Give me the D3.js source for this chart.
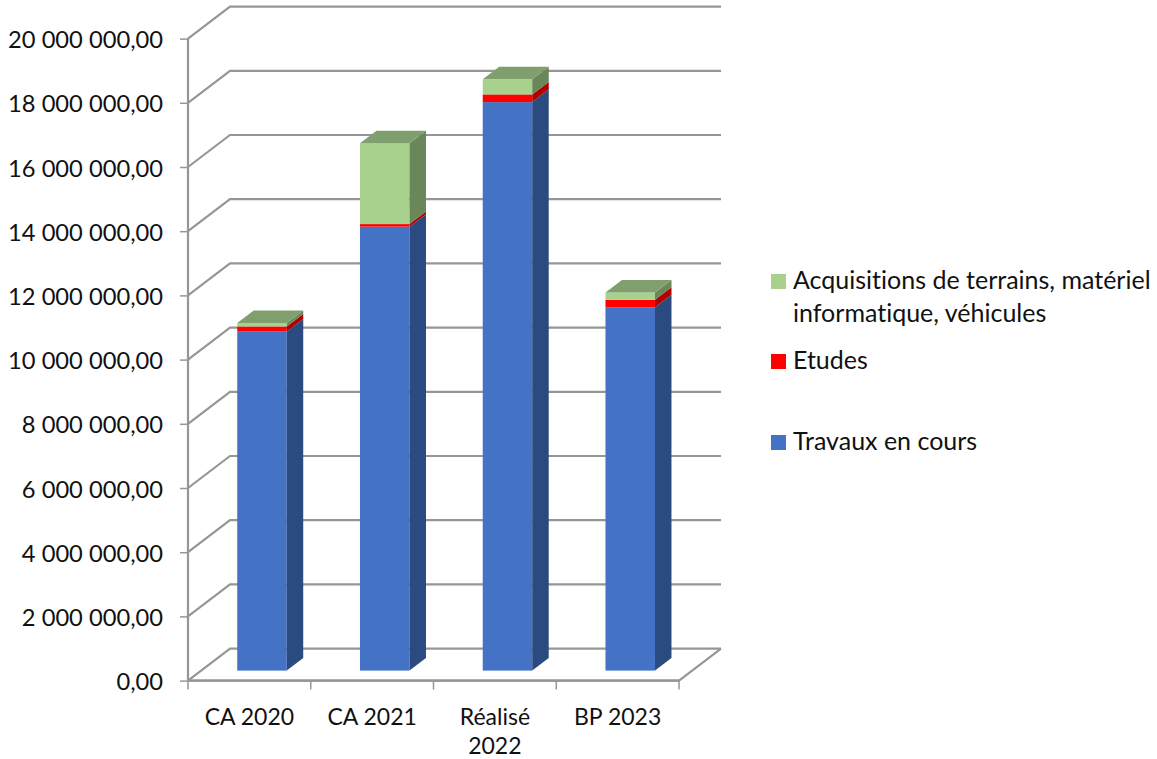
<!DOCTYPE html>
<html><head><meta charset="utf-8">
<script src="https://cdn.jsdelivr.net/npm/d3@7/dist/d3.min.js"></script>
<style>html,body{margin:0;padding:0;background:#fff}svg{display:block}text{font-family:Lato,"Open Sans",sans-serif;fill:#111;font-variant-ligatures:none}</style>
</head><body><svg id="c" width="1157" height="759"></svg>
<script>
const categories = ["CA 2020", "CA 2021", "Réalisé 2022", "BP 2023"];
const travaux = [10560000, 13830000, 17710000, 11320000];
const etudes = [160000, 80000, 240000, 230000];
const acquisitions = [110000, 2520000, 470000, 230000];
const seriesNames = ["Travaux en cours", "Etudes", "Acquisitions de terrains, matériel informatique, véhicules"];
const yTicks = [0, 2e6, 4e6, 6e6, 8e6, 10e6, 12e6, 14e6, 16e6, 18e6, 20e6];
const faceColors = ["#4472c4", "#ff0000", "#a9d18e"];
const sideColors = ["#2a4a80", "#b00000", "#6b8659"];
const topColors = ["#2a4a80", "#b00000", "#7f9f6e"];

const svg = d3.select("#c");
const x = d3.scaleBand().domain(categories).range([188, 679]);
const y = d3.scaleLinear().domain([0, 20e6]).range([680.6, 38.6]);
const wall = {dx: 42, dy: -32};
const bar = {w: 49.5, dx: 16.5, dy: -12.5, ox: 12.6, oy: -10};
const gridC = "#969696";
const fmt = v => v === 0 ? "0,00" : d3.format(",.2f")(v).replace(/,/g, " ").replace(".", ",");

// walls
const walls = svg.append("g").attr("fill", "none").attr("stroke", gridC).attr("stroke-width", 2.2);
walls.selectAll("path").data(yTicks).join("path")
  .attr("d", t => `M${x.range()[0]},${y(t)}l${wall.dx},${wall.dy}H${x.range()[1] + wall.dx}`);
walls.append("path").attr("d", `M${x.range()[0]},${y(0)}H${x.range()[1]}l${wall.dx},${wall.dy}`);

// axes
const yAxis = d3.axisLeft(y).tickValues(yTicks).tickFormat(fmt).tickSize(8).tickPadding(17);
const gy = svg.append("g").attr("transform", `translate(${x.range()[0]},0)`).call(yAxis);
const xAxis = d3.axisBottom(x).tickSize(0).tickPadding(0);
const gx = svg.append("g").attr("transform", `translate(0,${y(0)})`).call(xAxis);
[gy, gx].forEach(g => {
  g.select(".domain").attr("stroke", gridC).attr("stroke-width", 2.2);
  g.selectAll(".tick line").attr("stroke", gridC).attr("stroke-width", 1.5);
});
gx.select(".domain").attr("d", `M${x.range()[0]},0H${x.range()[1]}`);
gy.select(".domain").attr("d", `M0,${y(20e6)}V${y(0)}`);
gy.selectAll("text").attr("font-size", 23.7).attr("dy", "0.38em").style("font-family", "Lato");
gx.selectAll("text").attr("font-size", 23).attr("font-family", "Lato").attr("y", 0).attr("dy", 0)
  .each(function(d) {
    const parts = d === "Réalisé 2022" ? ["Réalisé", "2022"] : [d];
    const t = d3.select(this).text(null);
    parts.forEach((p, i) => t.append("tspan").attr("x", 0).attr("y", 44 + i * 29.4).text(p));
  });
svg.append("g").attr("stroke", gridC).attr("stroke-width", 1.5)
  .selectAll("line").data(d3.range(categories.length + 1)).join("line")
  .attr("x1", i => x.range()[0] + i * x.step()).attr("x2", i => x.range()[0] + i * x.step())
  .attr("y1", y(0)).attr("y2", y(0) + 9);

// stacked 3D bars
const rows = categories.map((c, i) => ({c, a: travaux[i], b: etudes[i], d: acquisitions[i]}));
const stack = d3.stack().keys(["a", "b", "d"])(rows);
const gb = svg.append("g");
stack.forEach((s, k) => {
  s.forEach((seg, i) => {
    const xl = x(categories[i]) + x.bandwidth() / 2 - bar.w / 2 + bar.ox;
    const xr = xl + bar.w;
    const y0 = y(seg[0]) + bar.oy, y1 = y(seg[1]) + bar.oy;
    gb.append("rect").attr("x", xl).attr("y", y1).attr("width", bar.w).attr("height", y0 - y1).attr("fill", faceColors[k]);
    gb.append("path").attr("fill", sideColors[k])
      .attr("d", `M${xr},${y0}V${y1}l${bar.dx},${bar.dy}V${y0 + bar.dy}Z`);
    if (k === stack.length - 1)
      gb.append("path").attr("fill", topColors[k])
        .attr("d", `M${xl},${y1}H${xr}l${bar.dx},${bar.dy}H${xl + bar.dx}Z`);
  });
});

// legend
const legend = [
  {k: 2, sy: 274, lines: ["Acquisitions de terrains, matériel", "informatique, véhicules"], ty: [289, 322]},
  {k: 1, sy: 354, lines: ["Etudes"], ty: [369]},
  {k: 0, sy: 435, lines: ["Travaux en cours"], ty: [450]}
];
const gl = svg.append("g");
legend.forEach(l => {
  gl.append("rect").attr("x", 771).attr("y", l.sy).attr("width", 15).attr("height", 15).attr("fill", faceColors[l.k]);
  l.lines.forEach((t, i) => gl.append("text").attr("x", 793).attr("y", l.ty[i]).attr("font-size", 25).text(t));
});
</script></body></html>
